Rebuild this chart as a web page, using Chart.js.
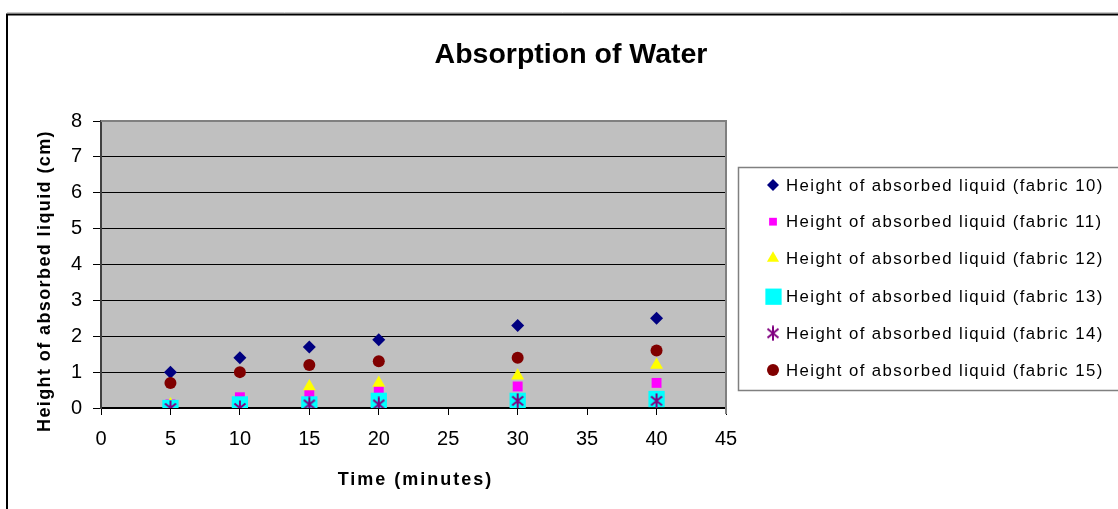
<!DOCTYPE html>
<html>
<head>
<meta charset="utf-8">
<script src="https://cdn.jsdelivr.net/npm/chart.js@4/dist/chart.umd.min.js"></script>
<style>
html,body{margin:0;padding:0;background:#fff;}
#wrap{position:relative;width:1118px;height:509px;overflow:hidden;}
canvas{display:block;}
</style>
</head>
<body>
<div id="wrap"><canvas id="c" width="1118" height="509"></canvas></div>
<script>
// ---- data ----
const chartTitle = "Absorption of Water";
const xTitle = "Time (minutes)";
const yTitle = "Height of absorbed liquid (cm)";
const times = [5, 10, 15, 20, 30, 40];
const seriesLabels = [
  "Height of absorbed liquid (fabric 10)",
  "Height of absorbed liquid (fabric 11)",
  "Height of absorbed liquid (fabric 12)",
  "Height of absorbed liquid (fabric 13)",
  "Height of absorbed liquid (fabric 14)",
  "Height of absorbed liquid (fabric 15)"
];
const fabric10 = [1.0, 1.4, 1.7, 1.9, 2.3, 2.5];
const fabric11 = [0.1, 0.3, 0.4, 0.5, 0.6, 0.7];
const fabric12 = [0.1, 0.1, 0.6, 0.7, 0.9, 1.2];
const fabric13 = [0.0, 0.1, 0.1, 0.2, 0.2, 0.25];
const fabric14 = [0.0, 0.0, 0.1, 0.1, 0.2, 0.2];
const fabric15 = [0.7, 1.0, 1.2, 1.3, 1.4, 1.6];
const xTicks = [0, 5, 10, 15, 20, 25, 30, 35, 40, 45];
const yTicks = [0, 1, 2, 3, 4, 5, 6, 7, 8];

// ---- styles ----
const FONT = "Arial, 'Liberation Sans', sans-serif";
function makeStar(color) {
  const c = document.createElement('canvas');
  c.width = 14; c.height = 16;
  const g = c.getContext('2d');
  g.strokeStyle = color; g.lineWidth = 2; g.lineCap = 'butt';
  g.beginPath();
  g.moveTo(1.5, 3.5); g.lineTo(12.5, 12.5);
  g.moveTo(12.5, 3.5); g.lineTo(1.5, 12.5);
  g.moveTo(7, 0.5); g.lineTo(7, 15.5);
  g.stroke();
  return c;
}
const starImg = makeStar('#800080');
const styles = [
  {color: '#000080', pointStyle: 'rectRot', radius: 6.5},
  {color: '#FF00FF', pointStyle: 'rect', radius: 7},
  {color: '#FFFF00', pointStyle: 'triangle', radius: 7.5},
  {color: '#00FFFF', pointStyle: 'rect', radius: 11.5},
  {color: '#800080', pointStyle: starImg, radius: 7},
  {color: '#800000', pointStyle: 'circle', radius: 6}
];
const seriesValues = [fabric10, fabric11, fabric12, fabric13, fabric14, fabric15];

const datasets = seriesValues.map((vals, i) => ({
  label: seriesLabels[i],
  data: vals.map((v, j) => ({x: times[j], y: v})),
  pointStyle: styles[i].pointStyle,
  pointRadius: styles[i].radius,
  pointHoverRadius: styles[i].radius,
  backgroundColor: styles[i].color,
  borderColor: styles[i].color,
  pointBorderWidth: 0,
  showLine: false,
  order: seriesValues.length - 1 - i
}));

const decor = {
  id: 'decor',
  beforeDraw(chart) {
    const ctx = chart.ctx, a = chart.chartArea;
    ctx.save();
    ctx.fillStyle = '#fff';
    ctx.fillRect(0, 0, chart.width, chart.height);
    ctx.fillStyle = '#C0C0C0';
    ctx.fillRect(a.left, a.top, a.right - a.left, a.bottom - a.top);
    ctx.strokeStyle = '#c8c8c8'; ctx.lineWidth = 1;
    ctx.beginPath(); ctx.moveTo(7, 12.5); ctx.lineTo(1118, 12.5); ctx.stroke();
    ctx.strokeStyle = '#000'; ctx.lineWidth = 2;
    ctx.beginPath();
    ctx.moveTo(7, 509); ctx.lineTo(7, 14.5); ctx.lineTo(1118, 14.5);
    ctx.stroke();
    ctx.restore();
  },
  beforeDatasetsDraw(chart) {
    const ctx = chart.ctx, a = chart.chartArea;
    ctx.save();
    ctx.strokeStyle = '#808080'; ctx.lineWidth = 2;
    ctx.beginPath();
    ctx.moveTo(a.left, a.top); ctx.lineTo(a.right, a.top); ctx.lineTo(a.right, a.bottom + 6);
    ctx.stroke();
    ctx.restore();
  },
  afterDraw(chart) {
    const ctx = chart.ctx, a = chart.chartArea;
    ctx.save();
    ctx.fillStyle = '#000';
    ctx.font = 'bold 28.5px ' + FONT;
    ctx.textAlign = 'center'; ctx.textBaseline = 'alphabetic';
    ctx.fillText(chartTitle, 571, 63);
    ctx.font = 'bold 18px ' + FONT;
    ctx.letterSpacing = '2px';
    ctx.fillText(xTitle, (a.left + a.right) / 2 + 2, 485);
    ctx.save();
    ctx.translate(50, 281);
    ctx.rotate(-Math.PI / 2);
    ctx.letterSpacing = '1.4px';
    ctx.fillText(yTitle, 0, 0);
    ctx.restore();
    ctx.letterSpacing = '0px';
    ctx.strokeStyle = '#808080'; ctx.lineWidth = 1.5;
    ctx.beginPath();
    ctx.moveTo(1118, 167.5); ctx.lineTo(738.5, 167.5); ctx.lineTo(738.5, 390.5); ctx.lineTo(1118, 390.5);
    ctx.stroke();
    const rows = [185, 221.7, 258.3, 296.7, 333.3, 370];
    const legR = [6, 5.5, 7, 11.5, 7, 6];
    chart.data.datasets.forEach((ds, i) => {
      const y = rows[i];
      ctx.fillStyle = ds.backgroundColor;
      ctx.strokeStyle = ds.borderColor;
      Chart.helpers.drawPoint(ctx, {pointStyle: ds.pointStyle, radius: legR[i], rotation: 0, borderWidth: 0}, i === 3 ? 773.5 : 773, y);
      ctx.fillStyle = '#000';
      ctx.font = '16.8px ' + FONT;
      ctx.letterSpacing = '1.4px';
      ctx.textAlign = 'left'; ctx.textBaseline = 'middle';
      ctx.fillText(ds.label, 786, y + 1);
    });
    ctx.restore();
  }
};

new Chart(document.getElementById('c'), {
  type: 'scatter',
  data: {datasets},
  options: {
    responsive: false,
    animation: false,
    devicePixelRatio: 1,
    layout: {padding: {left: 0, top: 121, right: 392, bottom: 0}},
    plugins: {legend: {display: false}, title: {display: false}, tooltip: {enabled: false}},
    scales: {
      x: {
        type: 'linear', min: 0, max: 45,
        afterFit(s) { s.height = 101; },
        afterBuildTicks(s) { s.ticks = xTicks.map(v => ({value: v})); },
        grid: {drawOnChartArea: false, drawTicks: true, tickLength: 7, tickColor: '#000', tickWidth: 1},
        border: {display: true, color: '#000', width: 1.5},
        ticks: {color: '#000', font: {family: FONT, size: 20}, padding: 12, maxRotation: 0, autoSkip: false}
      },
      y: {
        type: 'linear', min: 0, max: 8,
        afterFit(s) { s.width = 101; },
        afterBuildTicks(s) { s.ticks = yTicks.map(v => ({value: v})); },
        grid: {
          color: c => (c.tick && c.tick.value === 8) ? '#808080' : '#000',
          lineWidth: 1, drawTicks: true, tickLength: 8, tickColor: '#000'
        },
        border: {display: true, color: '#404040', width: 2},
        ticks: {color: '#000', font: {family: FONT, size: 20}, padding: 11, autoSkip: false}
      }
    }
  },
  plugins: [decor]
});
</script>
</body>
</html>
